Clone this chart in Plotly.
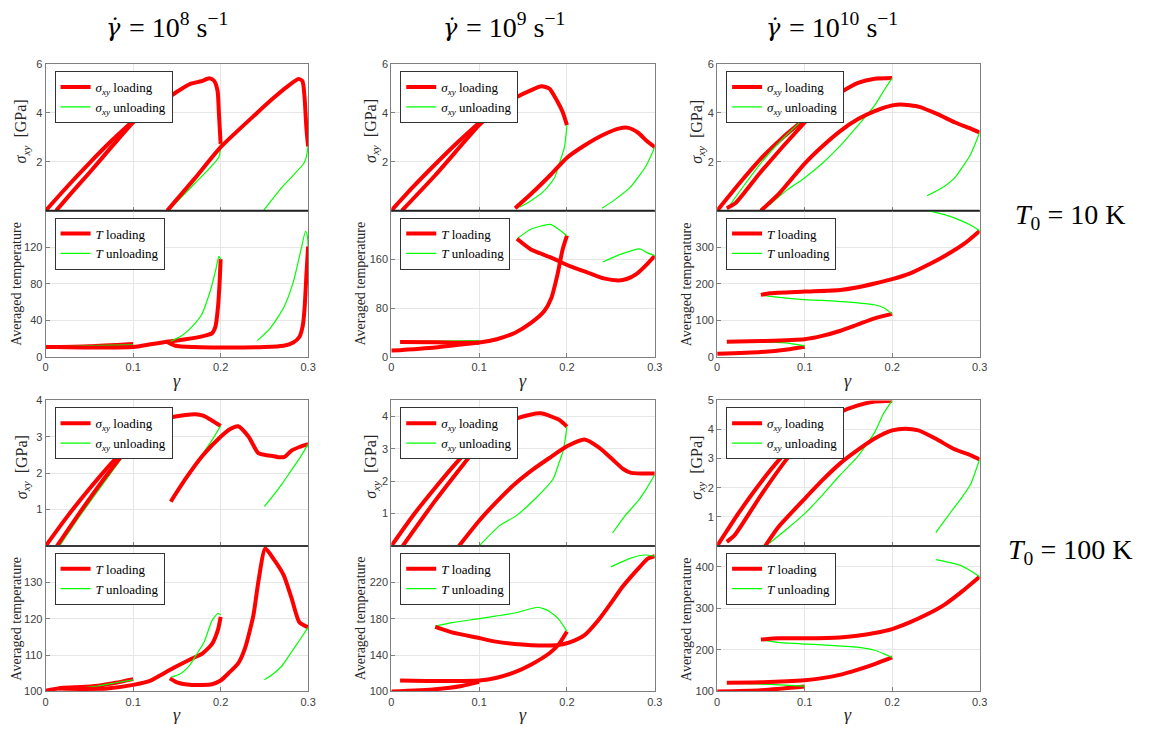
import plotly.graph_objects as go

# The page body has an 8px margin; the figure is sized to fit inside the window.
OFF = 8
W, H = 1165 - 2 * OFF, 732 - 2 * OFF

# ---------------- column / row labels ----------------
COL_RATES = ["8", "9", "10"]
ROW_T0 = ["10", "100"]
X_TICKS = [0, 0.1, 0.2, 0.3]
X_TICKTEXT = ["0", "0.1", "0.2", "0.3"]

# y-axis ranges and ticks per panel (row, col)
S_RANGE = {(0, 0): [0, 6], (0, 1): [0, 6], (0, 2): [0, 6],
           (1, 0): [0, 4], (1, 1): [0, 4.5], (1, 2): [0, 5]}
S_TICKS = {(0, 0): [2, 4, 6], (0, 1): [2, 4, 6], (0, 2): [2, 4, 6],
           (1, 0): [1, 2, 3, 4], (1, 1): [1, 2, 3, 4], (1, 2): [1, 2, 3, 4, 5]}
T_RANGE = {(0, 0): [0, 160], (0, 1): [0, 240], (0, 2): [0, 400],
           (1, 0): [100, 140], (1, 1): [100, 260], (1, 2): [100, 450]}
T_TICKS = {(0, 0): [0, 40, 80, 120], (0, 1): [0, 80, 160], (0, 2): [0, 100, 200, 300],
           (1, 0): [100, 110, 120, 130], (1, 1): [100, 140, 180, 220], (1, 2): [100, 200, 300, 400]}

# ---------------- data: (x list, y list) segments ----------------
# T0 = 10 K, rate 1e8
S11_LOAD = [
    ([0, 0.025, 0.05, 0.075, 0.1], [0, 1.0, 1.95, 2.85, 3.68]),
    ([0.012, 0.03, 0.05, 0.075, 0.1, 0.114, 0.135, 0.151, 0.166, 0.178, 0.187, 0.1925, 0.1965, 0.198, 0.2],
     [0, 0.75, 1.55, 2.6, 3.62, 4.08, 4.5, 4.89, 5.2, 5.3, 5.42, 5.32, 4.9, 4.0, 2.72]),
    ([0.139, 0.17, 0.2, 0.24, 0.26, 0.275, 0.289, 0.2935, 0.296, 0.298, 0.3],
     [0, 1.3, 2.6, 3.95, 4.6, 5.05, 5.39, 5.3, 4.6, 3.4, 2.62]),
]
S11_UNLOAD = [
    ([0.1, 0.075, 0.05, 0.03, 0.014], [3.62, 2.55, 1.5, 0.72, 0.05]),
    ([0.2, 0.198, 0.17, 0.14], [2.75, 2.2, 1.1, 0.0]),
    ([0.3, 0.298, 0.295, 0.27, 0.249], [2.65, 2.2, 1.93, 0.95, 0.0]),
]
T11_LOAD = [
    ([0, 0.05, 0.1], [11, 12, 14.5]),
    ([0.012, 0.05, 0.1, 0.12, 0.14, 0.16, 0.18, 0.19, 0.194, 0.197, 0.199, 0.2],
     [11, 10.5, 11, 14, 17, 19.5, 23, 26, 33, 55, 85, 107]),
    ([0.138, 0.148, 0.17, 0.2, 0.25, 0.272, 0.283, 0.29, 0.294, 0.296, 0.298, 0.3],
     [17, 12.5, 11, 10.5, 11, 12.5, 16, 22, 35, 54, 89, 121]),
]
T11_UNLOAD = [
    ([0.1, 0.05, 0.012], [13.5, 12.5, 11.5]),
    ([0.2, 0.198, 0.1946, 0.189, 0.178, 0.166, 0.155, 0.14], [107, 110, 96, 75, 46, 32, 23, 16]),
    ([0.3, 0.299, 0.297, 0.292, 0.283, 0.272, 0.257, 0.242], [121, 133, 137.5, 118, 82, 54, 32, 18]),
]
# T0 = 10 K, rate 1e9
S12_LOAD = [
    ([0, 0.025, 0.05, 0.075, 0.1], [0, 0.98, 1.9, 2.78, 3.6]),
    ([0.012, 0.05, 0.1, 0.12, 0.14, 0.16, 0.171, 0.18, 0.189, 0.195, 0.2],
     [0, 1.45, 3.5, 4.15, 4.6, 4.95, 5.09, 5.0, 4.48, 4.05, 3.5]),
    ([0.141, 0.159, 0.182, 0.2, 0.219, 0.242, 0.26, 0.27, 0.281, 0.291, 0.3],
     [0.1, 0.68, 1.49, 2.17, 2.65, 3.12, 3.37, 3.39, 3.19, 2.85, 2.6]),
]
S12_UNLOAD = [
    ([0.1, 0.05, 0.015], [3.5, 1.5, 0.05]),
    ([0.2, 0.197, 0.191, 0.186, 0.174, 0.159, 0.146], [3.5, 2.58, 1.9, 1.36, 0.81, 0.41, 0.14]),
    ([0.3, 0.29, 0.272, 0.253, 0.24], [2.6, 1.83, 0.95, 0.41, 0.1]),
]
T12_LOAD = [
    ([0, 0.05, 0.1], [10.7, 16, 24]),
    ([0.01, 0.05, 0.1, 0.12, 0.141, 0.159, 0.174, 0.182, 0.189, 0.195, 0.2],
     [25, 24.5, 24, 29.4, 40, 56, 75, 96, 134, 176, 199]),
    ([0.143, 0.159, 0.182, 0.204, 0.223, 0.242, 0.259, 0.268, 0.279, 0.291, 0.3],
     [194, 176.5, 163, 148.7, 139, 129, 125.7, 128, 136, 152, 166]),
]
T12_UNLOAD = [
    ([0.1, 0.05, 0.01], [27, 26.5, 26]),
    ([0.2, 0.19, 0.181, 0.159, 0.144], [199, 210, 217.6, 209.6, 195]),
    ([0.3, 0.29, 0.283, 0.26, 0.241], [166, 172, 177.5, 168, 156]),
]
# T0 = 10 K, rate 1e10
S13_LOAD = [
    ([0, 0.025, 0.05, 0.075, 0.1], [0, 1.1, 2.13, 3.0, 3.75]),
    ([0.011, 0.021, 0.05, 0.1, 0.12, 0.14, 0.161, 0.18, 0.2], [0.1, 0.31, 1.59, 3.61, 4.35, 4.82, 5.23, 5.4, 5.43]),
    ([0.05, 0.071, 0.1, 0.12, 0.141, 0.161, 0.18, 0.2, 0.21, 0.231, 0.252, 0.272, 0.291, 0.3],
     [0, 0.71, 1.93, 2.63, 3.27, 3.75, 4.08, 4.31, 4.35, 4.25, 3.95, 3.61, 3.34, 3.2]),
]
S13_UNLOAD = [
    ([0.1, 0.075, 0.05, 0.03, 0.015], [3.8, 2.95, 1.95, 1.0, 0.25]),
    ([0.2, 0.19, 0.18, 0.159, 0.141, 0.12, 0.099, 0.08, 0.06], [5.43, 4.89, 4.31, 3.41, 2.67, 1.93, 1.32, 0.85, 0.24]),
    ([0.3, 0.295, 0.289, 0.278, 0.271, 0.259, 0.24], [3.2, 2.74, 2.26, 1.66, 1.32, 0.98, 0.61]),
]
T13_LOAD = [
    ([0, 0.05, 0.08, 0.1], [9, 14, 21, 28.6]),
    ([0.011, 0.05, 0.1, 0.12, 0.141, 0.161, 0.18, 0.2], [42, 44, 49, 58, 72, 89.5, 106, 118]),
    ([0.05, 0.06, 0.1, 0.141, 0.161, 0.18, 0.2, 0.22, 0.24, 0.261, 0.282, 0.3],
     [170, 174.6, 179, 183.5, 190.7, 201, 213, 228, 250.7, 277.5, 309, 344.7]),
]
T13_UNLOAD = [
    ([0.1, 0.078, 0.05, 0.015], [31, 39, 42, 42]),
    ([0.2, 0.191, 0.18, 0.161, 0.12, 0.1, 0.071, 0.05], [118, 134, 143, 148, 155, 157, 163, 170]),
    ([0.24, 0.26, 0.28, 0.29, 0.3], [400, 389, 371.5, 360, 345]),
]
# T0 = 100 K, rate 1e8
S21_LOAD = [
    ([0, 0.025, 0.05, 0.075, 0.1], [0, 0.82, 1.57, 2.27, 2.91]),
    ([0.013, 0.04, 0.07, 0.1, 0.12, 0.14, 0.16, 0.171, 0.18, 0.19, 0.2],
     [0, 0.95, 1.95, 2.85, 3.35, 3.52, 3.6, 3.62, 3.58, 3.45, 3.3]),
    ([0.143, 0.16, 0.18, 0.2, 0.21, 0.22, 0.232, 0.243, 0.251, 0.258, 0.266, 0.273, 0.281, 0.29, 0.3],
     [1.22, 1.85, 2.5, 3.0, 3.2, 3.29, 3.0, 2.55, 2.5, 2.48, 2.44, 2.45, 2.62, 2.72, 2.8]),
]
S21_UNLOAD = [
    ([0.1, 0.07, 0.04, 0.016], [2.85, 1.85, 0.85, 0]),
    ([0.2, 0.19, 0.17, 0.155, 0.143], [3.3, 2.9, 2.2, 1.65, 1.22]),
    ([0.3, 0.29, 0.28, 0.27, 0.26, 0.25], [2.8, 2.4, 2.05, 1.7, 1.38, 1.08]),
]
T21_LOAD = [
    ([0, 0.02, 0.04, 0.06, 0.08, 0.1], [100.2, 101, 101.2, 101.6, 102.4, 103.4]),
    ([0.015, 0.04, 0.07, 0.1, 0.12, 0.13, 0.148, 0.165, 0.179, 0.19, 0.197, 0.2],
     [100.8, 100.7, 100.8, 101.8, 103, 104.3, 106.7, 108.8, 110.4, 113, 117, 120.5]),
    ([0.142, 0.15, 0.167, 0.19, 0.2, 0.209, 0.22, 0.228, 0.2375, 0.243, 0.251, 0.26, 0.272, 0.281, 0.29, 0.3],
     [103.6, 102.5, 101.8, 102, 103, 105, 107.7, 112, 121, 130, 139.3, 136.6, 132, 125.7, 119, 117.6]),
]
T21_UNLOAD = [
    ([0.1, 0.08, 0.06, 0.04, 0.015], [103.2, 102.4, 101.5, 101, 100.8]),
    ([0.2, 0.197, 0.19, 0.181, 0.172, 0.164, 0.155, 0.143], [121, 121.5, 119.4, 113.5, 110, 107, 105, 103.8]),
    ([0.25, 0.26, 0.27, 0.28, 0.29, 0.3], [103.2, 104.8, 107, 110.5, 114, 117.6]),
]
# T0 = 100 K, rate 1e9
S22_LOAD = [
    ([0, 0.025, 0.05, 0.075, 0.1], [0, 0.95, 1.8, 2.6, 3.31]),
    ([0.013, 0.05, 0.1, 0.119, 0.14, 0.17, 0.191, 0.2], [0, 1.4, 3.13, 3.69, 3.92, 4.1, 3.9, 3.69]),
    ([0.077, 0.1, 0.119, 0.14, 0.161, 0.18, 0.2, 0.22, 0.237, 0.252, 0.264, 0.273, 0.3],
     [0, 0.78, 1.34, 1.9, 2.36, 2.72, 3.08, 3.29, 3.03, 2.67, 2.38, 2.26, 2.24]),
]
S22_UNLOAD = [
    ([0.1, 0.05, 0.025], [3.2, 1.45, 0.5]),
    ([0.2, 0.196, 0.191, 0.184, 0.165, 0.142, 0.123, 0.1], [3.69, 2.98, 2.57, 2.06, 1.49, 0.93, 0.62, 0]),
    ([0.3, 0.29, 0.281, 0.266, 0.252], [2.2, 1.75, 1.39, 0.93, 0.4]),
]
T22_LOAD = [
    ([0, 0.05, 0.08, 0.1], [100, 102.5, 106, 110.5]),
    ([0.01, 0.05, 0.1, 0.12, 0.14, 0.16, 0.18, 0.19, 0.2], [112, 111.5, 112, 115, 121, 130, 142, 151, 166]),
    ([0.05, 0.069, 0.1, 0.119, 0.149, 0.168, 0.19, 0.203, 0.22, 0.235, 0.25, 0.262, 0.271, 0.283, 0.292, 0.3],
     [171, 165, 158.7, 154.8, 151.5, 150.5, 151, 154, 162, 177.5, 197, 213.5, 224, 237, 246, 248.8]),
]
T22_UNLOAD = [
    ([0.1, 0.05, 0.01], [111.5, 112.5, 112.5]),
    ([0.2, 0.191, 0.18, 0.167, 0.142, 0.12, 0.1, 0.069, 0.05], [166, 179, 188, 192.6, 186.5, 183, 180, 175.7, 172]),
    ([0.25, 0.271, 0.283, 0.29, 0.3], [237, 246, 249.5, 250, 248.8]),
]
# T0 = 100 K, rate 1e10
S23_LOAD = [
    ([0, 0.025, 0.05, 0.075, 0.1], [0, 1.15, 2.19, 3.1, 3.85]),
    ([0.011, 0.02, 0.05, 0.08, 0.1, 0.12, 0.14, 0.16, 0.18, 0.2], [0.14, 0.37, 1.74, 3.0, 3.68, 4.25, 4.59, 4.82, 4.96, 4.99]),
    ([0.055, 0.07, 0.1, 0.12, 0.14, 0.16, 0.18, 0.2, 0.215, 0.23, 0.25, 0.27, 0.29, 0.3],
     [0, 0.65, 1.62, 2.25, 2.82, 3.28, 3.69, 3.97, 4.03, 3.97, 3.68, 3.34, 3.11, 2.97]),
]
S23_UNLOAD = [
    ([0.1, 0.08, 0.05, 0.02, 0.015], [3.85, 3.05, 1.8, 0.35, 0.25]),
    ([0.2, 0.19, 0.18, 0.16, 0.14, 0.12, 0.1, 0.08, 0.06], [4.99, 4.54, 3.9, 3.05, 2.42, 1.74, 1.11, 0.59, 0.1]),
    ([0.3, 0.295, 0.29, 0.28, 0.27, 0.26, 0.25], [2.97, 2.54, 2.14, 1.68, 1.28, 0.88, 0.46]),
]
T23_LOAD = [
    ([0, 0.05, 0.1], [100, 103, 112]),
    ([0.011, 0.05, 0.1, 0.12, 0.14, 0.16, 0.18, 0.2], [121, 122, 127, 132, 140, 152, 166, 182]),
    ([0.05, 0.07, 0.1, 0.14, 0.16, 0.18, 0.2, 0.22, 0.24, 0.26, 0.28, 0.3],
     [225, 228, 228, 230, 234, 240.5, 250, 266, 285.5, 309, 340.7, 376]),
]
T23_UNLOAD = [
    ([0.1, 0.06, 0.015], [113, 117, 120]),
    ([0.2, 0.19, 0.18, 0.16, 0.12, 0.1, 0.07, 0.05], [182, 191, 199, 206.5, 212, 214, 218, 224]),
    ([0.25, 0.27, 0.28, 0.29, 0.3], [417, 408, 401.5, 389.7, 376]),
]

STRESS = {(0, 0): (S11_LOAD, S11_UNLOAD), (0, 1): (S12_LOAD, S12_UNLOAD), (0, 2): (S13_LOAD, S13_UNLOAD),
          (1, 0): (S21_LOAD, S21_UNLOAD), (1, 1): (S22_LOAD, S22_UNLOAD), (1, 2): (S23_LOAD, S23_UNLOAD)}
TEMP = {(0, 0): (T11_LOAD, T11_UNLOAD), (0, 1): (T12_LOAD, T12_UNLOAD), (0, 2): (T13_LOAD, T13_UNLOAD),
        (1, 0): (T21_LOAD, T21_UNLOAD), (1, 1): (T22_LOAD, T22_UNLOAD), (1, 2): (T23_LOAD, T23_UNLOAD)}

# ---------------- layout geometry (window pixels) ----------------
COL_PX = [(43, 308), (392, 658), (721, 986)]
ROW_PX = [(59, 208, 357), (401, 549, 697)]
TITLE_START = [107, 447, 773]

SERIF = "Liberation Serif, Times New Roman, serif"
SANS = "Liberation Sans, Arial, sans-serif"
RED = "#ff0000"
GREEN = "#00ff00"
FRAME = "#7f7f7f"
GRID = "#e6e6e6"
NB = "\u00a0"


def px2x(p):
    return (p - OFF) / W


def px2y(p):
    return 1 - (p - OFF) / H


fig = go.Figure()
layout = {}
annotations = []
shapes = []
ax_i = 0
leg_i = 0

S_NAME = "<i>σ</i><sub><i>xy</i></sub>"
T_NAME = "<i>T</i>"


def ann(text, x, y, size, angle=0, xanchor="center", family=SERIF, color="#262626"):
    annotations.append(dict(text=text, x=px2x(x), y=px2y(y), xref="paper", yref="paper",
                            xanchor=xanchor, yanchor="middle", textangle=angle, showarrow=False,
                            font=dict(family=family, size=size, color=color)))


for r in range(2):
    top, mid, bot = ROW_PX[r]
    for c in range(3):
        x0, x1 = COL_PX[c]
        for kind in ("S", "T"):
            ax_i += 1
            leg_i += 1
            xa = "x" if ax_i == 1 else f"x{ax_i}"
            ya = "y" if ax_i == 1 else f"y{ax_i}"
            xkey = "xaxis" if ax_i == 1 else f"xaxis{ax_i}"
            ykey = "yaxis" if ax_i == 1 else f"yaxis{ax_i}"
            lkey = "legend" if leg_i == 1 else f"legend{leg_i}"
            if kind == "S":
                ptop, pbot = top, mid
                loads, unloads = STRESS[(r, c)]
                yr, yt = S_RANGE[(r, c)], S_TICKS[(r, c)]
                nm = S_NAME
            else:
                ptop, pbot = mid, bot
                loads, unloads = TEMP[(r, c)]
                yr, yt = T_RANGE[(r, c)], T_TICKS[(r, c)]
                nm = T_NAME
            layout[xkey] = dict(
                domain=[px2x(x0), px2x(x1)], anchor=ya, range=[0, 0.3],
                tickvals=X_TICKS, ticktext=X_TICKTEXT, showticklabels=(kind == "T"),
                ticks="inside", ticklen=4, tickcolor=FRAME, showgrid=True, gridcolor=GRID,
                showline=True, linecolor=FRAME, linewidth=1, mirror=True, zeroline=False,
                tickfont=dict(family=SANS, size=11, color="#404040"),
            )
            layout[ykey] = dict(
                domain=[px2y(pbot), px2y(ptop)], anchor=xa, range=yr,
                tickvals=yt, ticks="inside", ticklen=4, tickcolor=FRAME,
                showgrid=True, gridcolor=GRID, showline=True, linecolor=FRAME,
                linewidth=1, mirror=True, zeroline=False,
                tickfont=dict(family=SANS, size=11, color="#404040"),
            )
            layout[lkey] = dict(
                x=px2x(x0 + 9), y=px2y(ptop + 7), xanchor="left", yanchor="top",
                xref="paper", yref="paper", bgcolor="white", bordercolor="#333333",
                borderwidth=1, font=dict(family=SERIF, size=13, color="black"),
                tracegroupgap=0, itemwidth=30,
            )
            # chronological order: load1, unload1, load2, unload2, load3, unload3
            for k in range(3):
                lx, ly = loads[k]
                fig.add_trace(go.Scatter(
                    x=lx, y=ly, mode="lines", xaxis=xa, yaxis=ya,
                    line=dict(color=RED, width=4, shape="spline", smoothing=0.6),
                    name=f"{nm} loading", legend=lkey, legendgroup=f"L{ax_i}",
                    showlegend=(k == 0), hoverinfo="skip"))
                ux, uy = unloads[k]
                fig.add_trace(go.Scatter(
                    x=ux, y=uy, mode="lines", xaxis=xa, yaxis=ya,
                    line=dict(color=GREEN, width=1.2, shape="spline", smoothing=0.6),
                    name=f"{nm} unloading", legend=lkey, legendgroup=f"U{ax_i}",
                    showlegend=(k == 0), hoverinfo="skip"))
        # divider line between stress and temperature panels
        shapes.append(dict(type="line", xref="paper", yref="paper",
                           x0=px2x(x0), x1=px2x(x1), y0=px2y(mid), y1=px2y(mid),
                           line=dict(color="#222222", width=1.6)))
        # y-axis titles
        sx = x0 - 24 if c == 0 else x0 - 20
        ann("<i>σ</i><sub><i>xy</i></sub>  [GPa]", sx, (top + mid) / 2 - 6, 16, angle=-90)
        tx = x0 - 29 if c == 0 else x0 - 31
        ann("Averaged temperature", tx, (mid + bot) / 2, 14, angle=-90)
        # x-axis title
        ann("<i>γ</i>", (x0 + x1) / 2, bot + 24, 18)

# column titles: γ̇ = 10^n s^-1
for c in range(3):
    s = TITLE_START[c]
    ann("<i>γ̇</i>", s + 14, 22, 24, xanchor="right", family="DejaVu Serif, serif", color="black")
    ann(f"={NB}10<sup>{COL_RATES[c]}</sup>{NB}s<sup>−1</sup>", s + 18, 20, 28,
        xanchor="left", color="black")

# row labels
for r in range(2):
    ann(f"<i>T</i><sub>0</sub>{NB}={NB}{ROW_T0[r]}{NB}K", 1077, ROW_PX[r][1] + 6, 28, color="black")

fig.update_layout(
    width=W, height=H, margin=dict(l=0, r=0, t=0, b=0),
    paper_bgcolor="white", plot_bgcolor="white",
    annotations=annotations, shapes=shapes, **layout,
)

fig.write_html("out.html")
